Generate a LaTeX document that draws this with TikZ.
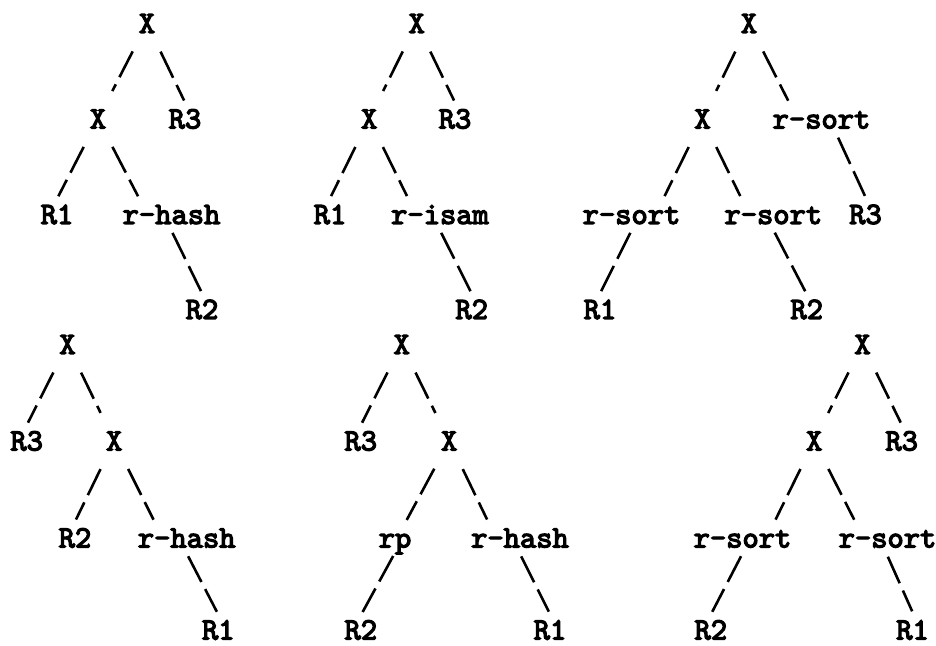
\documentclass[tikz,border=0pt]{standalone}
\usepackage{fontspec}
\newfontfamily\typewfam{lmmono10-regular}[Extension=.otf, FakeBold=4]
\newcommand\typewfont{\typewfam\fontsize{31pt}{31pt}\selectfont}
\tikzset{
  lbl/.style={font=\typewfont, inner sep=0pt, text height=18.9pt, text depth=0pt},
  edge/.style={line width=2.6pt, dash pattern=on 29pt off 8pt,
               shorten >=20.5pt, shorten <=20.5pt},
}
\begin{document}
\begin{tikzpicture}[x=1pt,y=-1pt]
\fill[white] (0,0) rectangle (936,645);
\useasboundingbox (0,0) rectangle (936,645);

% ---- upper left: X(X(R1, r-hash(R2)), R3)
\node[lbl] (t1x)  at (147,23.5)  {X};
\node[lbl] (t1xm) at (98,119)    {X};
\node[lbl] (t1r3) at (185,119)   {R3};
\node[lbl] (t1r1) at (57,214.5)  {R1};
\node[lbl] (t1rh) at (171.5,214.5) {r-hash};
\node[lbl] (t1r2) at (202,309.5) {R2};
\draw[edge] (t1x) -- (t1xm);
\draw[edge] (t1x) -- ([xshift=8pt]t1r3.center);
\draw[edge] (t1xm) -- ([xshift=-8pt]t1r1.center);
\draw[edge] (t1xm) -- ([xshift=-24pt]t1rh.center);
\draw[edge] ([xshift=-8pt]t1rh.center) -- ([xshift=8pt]t1r2.center);

% ---- upper middle: X(X(R1, r-isam(R2)), R3)
\node[lbl] (t2x)  at (416.7,23.5) {X};
\node[lbl] (t2xm) at (369.2,119)  {X};
\node[lbl] (t2r3) at (455,119)    {R3};
\node[lbl] (t2r1) at (330,214.5)  {R1};
\node[lbl] (t2ri) at (440,214.5)  {r-isam};
\node[lbl] (t2r2) at (471.7,309.5) {R2};
\draw[edge] (t2x) -- (t2xm);
\draw[edge] (t2x) -- ([xshift=8pt]t2r3.center);
\draw[edge] (t2xm) -- ([xshift=-8pt]t2r1.center);
\draw[edge] (t2xm) -- ([xshift=-24pt]t2ri.center);
\draw[edge] ([xshift=-8pt]t2ri.center) -- ([xshift=8pt]t2r2.center);

% ---- upper right: sort-merge joins
\node[lbl] (t3x)  at (749,23.5)   {X};
\node[lbl] (t3xm) at (702.5,119)  {X};
\node[lbl] (t3st) at (821.5,119)  {r-sort};
\node[lbl] (t3sl) at (631.5,214.5) {r-sort};
\node[lbl] (t3sr) at (773.3,214.5) {r-sort};
\node[lbl] (t3r3) at (865.5,214.5) {R3};
\node[lbl] (t3r1) at (600,309.5)  {R1};
\node[lbl] (t3r2) at (806.7,309.5) {R2};
\draw[edge] (t3x) -- (t3xm);
\draw[edge] (t3x) -- ([xshift=-24pt]t3st.center);
\draw[edge] (t3xm) -- ([xshift=24pt]t3sl.center);
\draw[edge] (t3xm) -- ([xshift=-24pt]t3sr.center);
\draw[edge] ([xshift=8pt]t3st.center) -- ([xshift=8pt]t3r3.center);
\draw[edge] ([xshift=8pt]t3sl.center) -- ([xshift=-8pt]t3r1.center);
\draw[edge] ([xshift=-8pt]t3sr.center) -- ([xshift=8pt]t3r2.center);

% ---- lower left: X(R3, X(R2, r-hash(R1)))
\node[lbl] (t4x)  at (67.5,344.5) {X};
\node[lbl] (t4r3) at (26.7,441)   {R3};
\node[lbl] (t4xm) at (114.2,441)  {X};
\node[lbl] (t4r2) at (75,538)     {R2};
\node[lbl] (t4rh) at (186.7,538)  {r-hash};
\node[lbl] (t4r1) at (218.3,630)  {R1};
\draw[edge] (t4x) -- ([xshift=-8pt]t4r3.center);
\draw[edge] (t4x) -- (t4xm);
\draw[edge] (t4xm) -- ([xshift=-8pt]t4r2.center);
\draw[edge] (t4xm) -- ([xshift=-24pt]t4rh.center);
\draw[edge] ([xshift=-8pt]t4rh.center) -- ([xshift=8pt]t4r1.center);

% ---- lower middle: X(R3, X(rp(R2), r-hash(R1)))
\node[lbl] (t5x)  at (401.7,344.5) {X};
\node[lbl] (t5r3) at (360.8,441)   {R3};
\node[lbl] (t5xm) at (449.2,441)   {X};
\node[lbl] (t5rp) at (395,538)     {rp};
\node[lbl] (t5rh) at (520,538)     {r-hash};
\node[lbl] (t5r2) at (360.8,630)   {R2};
\node[lbl] (t5r1) at (550,630)     {R1};
\draw[edge] (t5x) -- ([xshift=-8pt]t5r3.center);
\draw[edge] (t5x) -- (t5xm);
\draw[edge] (t5xm) -- ([xshift=2pt]t5rp.center);
\draw[edge] (t5xm) -- ([xshift=-24pt]t5rh.center);
\draw[edge] ([xshift=8pt]t5rp.center) -- ([xshift=-8pt]t5r2.center);
\draw[edge] ([xshift=-8pt]t5rh.center) -- ([xshift=8pt]t5r1.center);

% ---- lower right: X(X(r-sort(R2), r-sort(R1)), R3)
\node[lbl] (t6x)  at (862.5,344.5) {X};
\node[lbl] (t6xm) at (814.2,441)   {X};
\node[lbl] (t6r3) at (901.7,441)   {R3};
\node[lbl] (t6sl) at (742.5,538)   {r-sort};
\node[lbl] (t6sr) at (887.5,538)   {r-sort};
\node[lbl] (t6r2) at (710.8,630)   {R2};
\node[lbl] (t6r1) at (912.5,630)   {R1};
\draw[edge] (t6x) -- (t6xm);
\draw[edge] (t6x) -- ([xshift=8pt]t6r3.center);
\draw[edge] (t6xm) -- ([xshift=24pt]t6sl.center);
\draw[edge] (t6xm) -- ([xshift=-24pt]t6sr.center);
\draw[edge] ([xshift=8pt]t6sl.center) -- ([xshift=-8pt]t6r2.center);
\draw[edge] ([xshift=-8pt]t6sr.center) -- ([xshift=8pt]t6r1.center);
\end{tikzpicture}
\end{document}
